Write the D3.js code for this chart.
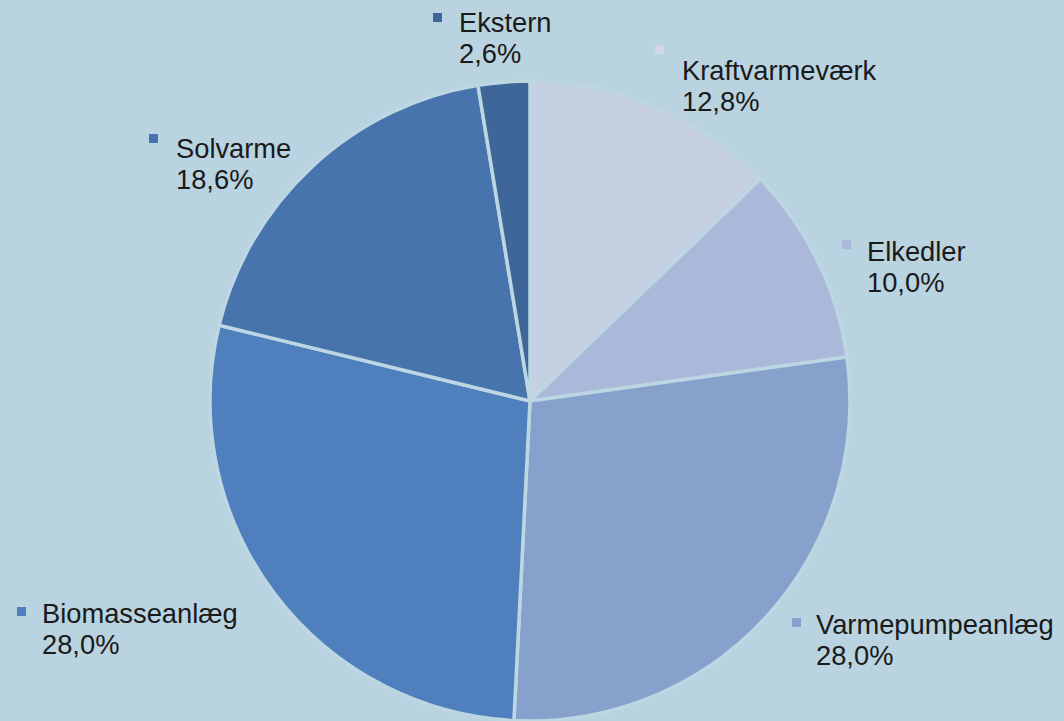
<!DOCTYPE html>
<html>
<head>
<meta charset="utf-8">
<script src="https://cdn.jsdelivr.net/npm/d3@7"></script>
<style>
  body { margin: 0; background: #b9d3e0; }
  svg { display: block; }
  text { font-family: "Liberation Sans", Arial, sans-serif; fill: #1a1a1a; }
</style>
</head>
<body>
<div id="chart"></div>
<script>
// Slice data, clockwise from 12 o'clock
const categories = ["Kraftvarmeværk", "Elkedler", "Varmepumpeanlæg", "Biomasseanlæg", "Solvarme", "Ekstern"];
const shares = [12.8, 10.0, 28.0, 28.0, 18.6, 2.6];
const sliceColors = ["#c6d0e3", "#aab9da", "#86a1cc", "#4f80bd", "#4874ad", "#3e6698"];
const markerColors = ["#d3d6e8", "#aab9da", "#86a1cc", "#4f80bd", "#4874ad", "#3e6698"];
// text start x and first baseline y of each label
const textPos = [[682, 80], [867, 261], [816, 634], [42, 623], [176, 158], [459, 32]];
// top-left corner of each little square
const markerPos = [[655, 45], [842, 240], [792, 618], [17, 607], [149, 134], [433, 13]];

const width = 1064, height = 721;
const cx = 530, cy = 401, radius = 320;

const svg = d3.select("#chart").append("svg")
    .attr("width", width)
    .attr("height", height);

svg.append("rect")
    .attr("width", width)
    .attr("height", height)
    .attr("fill", "#b9d3e0");

const data = categories.map((c, i) => ({ name: c, value: shares[i], i: i }));

const pie = d3.pie()
    .sort(null)
    .value(d => d.value);

const arc = d3.arc()
    .innerRadius(0)
    .outerRadius(radius);

const g = svg.append("g")
    .attr("transform", `translate(${cx},${cy})`);

g.selectAll("path")
    .data(pie(data))
    .join("path")
    .attr("d", arc)
    .attr("fill", d => sliceColors[d.data.i])
    .attr("stroke", "#bcd6e2")
    .attr("stroke-width", 3.5)
    .attr("stroke-linejoin", "round");

const fmt = v => d3.format(".1f")(v).replace(".", ",") + "%";

// little colour squares
svg.selectAll("rect.mark")
    .data(data)
    .join("rect")
    .attr("class", "mark")
    .attr("x", d => markerPos[d.i][0])
    .attr("y", d => markerPos[d.i][1])
    .attr("width", 9)
    .attr("height", 9)
    .attr("fill", d => markerColors[d.i]);

// two-line labels
const labels = svg.selectAll("text.lbl")
    .data(data)
    .join("text")
    .attr("class", "lbl")
    .attr("font-size", 27.3)
    .attr("x", d => textPos[d.i][0])
    .attr("y", d => textPos[d.i][1]);

labels.append("tspan")
    .attr("x", d => textPos[d.i][0])
    .text(d => d.name);

labels.append("tspan")
    .attr("x", d => textPos[d.i][0])
    .attr("dy", 31)
    .text(d => fmt(d.value));
</script>
</body>
</html>
